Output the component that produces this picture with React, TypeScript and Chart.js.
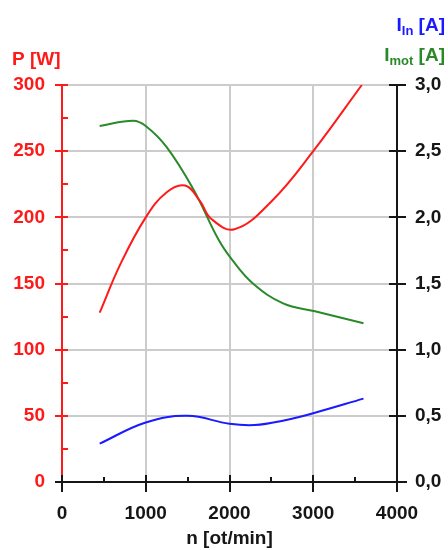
import React, { useEffect, useRef } from "react";
import { Chart, registerables } from "chart.js";

Chart.register(...registerables);

// Motor speed [rpm] and measured quantities
const speedP = [450, 700, 1000, 1250, 1470, 1650, 1780, 2060, 2500, 3000, 3580];
const powerW = [128, 165, 200, 219, 224, 212, 199, 191, 212, 250, 300];

const speedMot = [450, 850, 1000, 1250, 1570, 1870, 2030, 2280, 2640, 3020, 3600];
const motorCurrentA = [2.69, 2.73, 2.69, 2.53, 2.21, 1.83, 1.68, 1.5, 1.35, 1.29, 1.2];

const speedIn = [450, 1000, 1500, 2000, 2300, 2650, 3000, 3600];
const inputCurrentA = [0.29, 0.45, 0.5, 0.44, 0.43, 0.465, 0.52, 0.63];

const speedTicks = [0, 1000, 2000, 3000, 4000];
const powerTicks = [0, 50, 100, 150, 200, 250, 300];
const currentTicks = [0, 0.5, 1, 1.5, 2, 2.5, 3];

const FONT = "'Liberation Sans', Arial, sans-serif";
const RED = "#ff1a1a";
const GREEN = "#2a8a2a";
const BLUE = "#1a1aff";
const DARK = "#161616";

const pairs = (xs: number[], ys: number[]) => xs.map((x, i) => ({ x, y: ys[i] }));

// Axis lines with ticks crossing the axes, plus the stacked axis titles
const axesPlugin = {
  id: "crossAxes",
  afterDraw(chart: any) {
    const { ctx, chartArea, scales } = chart;
    const { left, right, top, bottom } = chartArea;
    const sx = scales.x;
    const sy = scales.y;
    const sy1 = scales.y1;
    ctx.save();
    ctx.lineWidth = 2;
    ctx.lineCap = "butt";

    // left (power) axis
    ctx.strokeStyle = RED;
    ctx.beginPath();
    ctx.moveTo(left, top);
    ctx.lineTo(left, bottom);
    for (const v of powerTicks) {
      const y = Math.round(sy.getPixelForValue(v));
      ctx.moveTo(left - 7, y);
      ctx.lineTo(left + (v === 0 ? 0 : 6), y);
    }
    for (let v = 25; v < 300; v += 50) {
      const y = Math.round(sy.getPixelForValue(v));
      ctx.moveTo(left, y);
      ctx.lineTo(left + 6, y);
    }
    ctx.stroke();

    // bottom (speed) axis
    ctx.strokeStyle = DARK;
    ctx.beginPath();
    ctx.moveTo(left - 7, bottom);
    ctx.lineTo(right + 10, bottom);
    for (const v of speedTicks) {
      const x = Math.round(sx.getPixelForValue(v));
      ctx.moveTo(x, bottom - 7);
      ctx.lineTo(x, bottom + 10);
    }
    for (let v = 500; v < 4000; v += 1000) {
      const x = Math.round(sx.getPixelForValue(v));
      ctx.moveTo(x, bottom - 5);
      ctx.lineTo(x, bottom);
    }
    ctx.stroke();

    // right (current) axis
    ctx.beginPath();
    ctx.moveTo(right, top);
    ctx.lineTo(right, bottom + 8);
    for (const v of currentTicks) {
      const y = Math.round(sy1.getPixelForValue(v));
      ctx.moveTo(right - 8, y);
      ctx.lineTo(right + 9, y);
    }
    ctx.stroke();

    // titles
    const big = `bold 19px ${FONT}`;
    const small = `bold 13px ${FONT}`;
    ctx.textBaseline = "alphabetic";
    ctx.textAlign = "left";
    ctx.fillStyle = RED;
    ctx.font = big;
    ctx.fillText("P [W]", 12, 65);

    const subTitle = (main: string, sub: string, rest: string, rightX: number, base: number, color: string) => {
      ctx.fillStyle = color;
      ctx.font = big;
      const wMain = ctx.measureText(main).width;
      const wRest = ctx.measureText(rest).width;
      ctx.font = small;
      const wSub = ctx.measureText(sub).width;
      let x = rightX - wMain - wSub - wRest;
      ctx.font = big;
      ctx.fillText(main, x, base);
      x += wMain;
      ctx.font = small;
      ctx.fillText(sub, x, base + 4);
      x += wSub;
      ctx.font = big;
      ctx.fillText(rest, x, base);
    };
    subTitle("I", "In", " [A]", 445, 31, BLUE);
    subTitle("I", "mot", " [A]", 445, 61, GREEN);
    ctx.restore();
  },
};

export default function App() {
  const ref = useRef<HTMLCanvasElement | null>(null);

  useEffect(() => {
    if (!ref.current) return;
    const lineStyle = {
      borderWidth: 2,
      pointRadius: 0,
      fill: false,
      tension: 0.4,
    };
    const chart = new Chart(ref.current, {
      type: "line",
      data: {
        datasets: [
          { label: "P", data: pairs(speedP, powerW), borderColor: RED, yAxisID: "y", ...lineStyle },
          { label: "Imot", data: pairs(speedMot, motorCurrentA), borderColor: GREEN, yAxisID: "y1", ...lineStyle },
          { label: "Iin", data: pairs(speedIn, inputCurrentA), borderColor: BLUE, yAxisID: "y1", ...lineStyle },
        ],
      },
      options: {
        animation: false,
        responsive: true,
        maintainAspectRatio: false,
        layout: { padding: { top: 85, left: 0, right: 0, bottom: 0 } },
        plugins: { legend: { display: false }, tooltip: { enabled: false } },
        scales: {
          x: {
            type: "linear",
            min: 0,
            max: 4000,
            afterBuildTicks: (s: any) => {
              s.ticks = speedTicks.map((v) => ({ value: v }));
            },
            afterFit: (s: any) => {
              s.height = 68;
            },
            ticks: {
              color: DARK,
              font: { family: FONT, size: 19, weight: "bold" },
              padding: 20,
              maxRotation: 0,
              callback: (v: any) => String(v),
            },
            grid: { color: "#cccccc", lineWidth: 2, drawTicks: false },
            border: { display: false },
            title: {
              display: true,
              text: "n [ot/min]",
              color: DARK,
              font: { family: FONT, size: 19, weight: "bold" },
              padding: { top: 3, bottom: 0 },
            },
          },
          y: {
            position: "left",
            min: 0,
            max: 300,
            afterBuildTicks: (s: any) => {
              s.ticks = powerTicks.map((v) => ({ value: v }));
            },
            afterFit: (s: any) => {
              s.width = 62;
            },
            ticks: { color: RED, font: { family: FONT, size: 19, weight: "bold" }, padding: 17 },
            grid: { color: "#cccccc", lineWidth: 2, drawTicks: false },
            border: { display: false },
          },
          y1: {
            position: "right",
            min: 0,
            max: 3,
            afterBuildTicks: (s: any) => {
              s.ticks = currentTicks.map((v) => ({ value: v }));
            },
            afterFit: (s: any) => {
              s.width = 51;
            },
            ticks: {
              color: DARK,
              font: { family: FONT, size: 19, weight: "bold" },
              padding: 18,
              callback: (v: any) => Number(v).toFixed(1).replace(".", ","),
            },
            grid: { display: false, drawTicks: false },
            border: { display: false },
          },
        },
      },
      plugins: [axesPlugin],
    } as any);
    return () => chart.destroy();
  }, []);

  return (
    <div style={{ position: "fixed", left: 0, top: 0, width: 448, height: 550, background: "#fff" }}>
      <canvas ref={ref} />
    </div>
  );
}
